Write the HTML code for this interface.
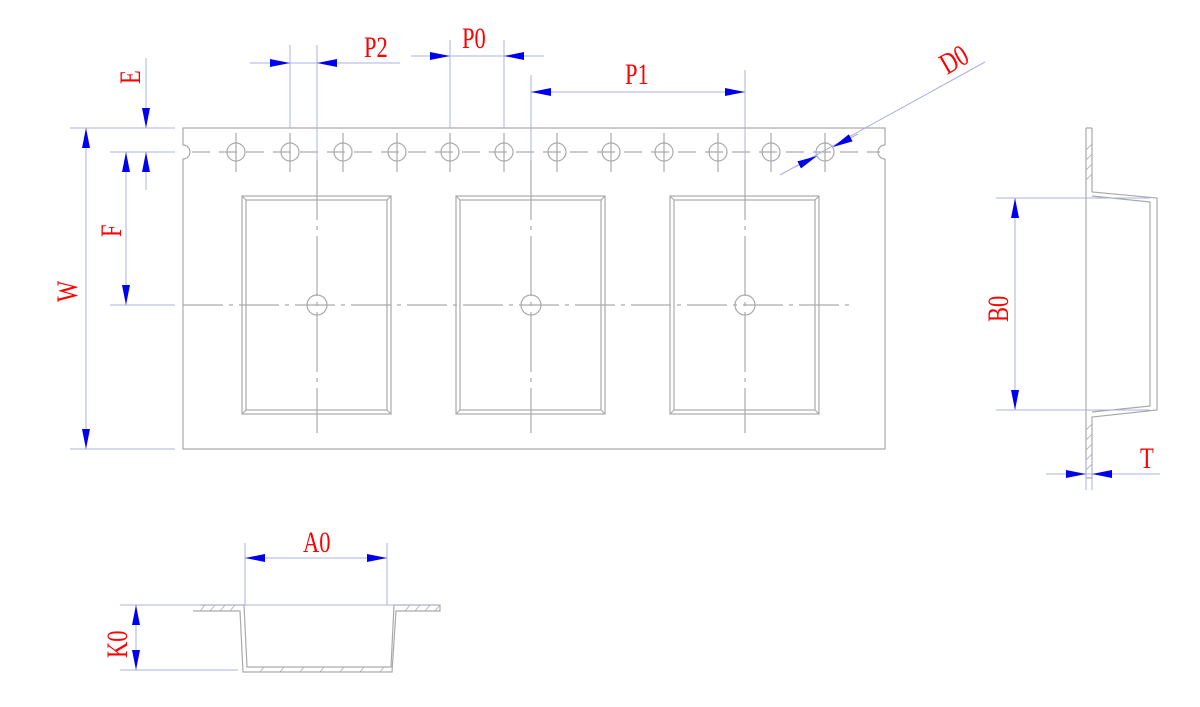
<!DOCTYPE html>
<html><head><meta charset="utf-8"><style>
html,body{margin:0;padding:0;background:#fff;}
svg{display:block}
text{font-family:"Liberation Serif",serif;fill:#f00;font-size:30px;}
</style></head><body>
<svg width="1200" height="707" viewBox="0 0 1200 707" xmlns="http://www.w3.org/2000/svg">
<defs>
<marker id="a" viewBox="0 0 20 8" refX="20" refY="4" markerWidth="20" markerHeight="8" markerUnits="userSpaceOnUse" orient="auto"><path d="M0,0L20,4L0,8z" fill="#0000ee"/></marker>
</defs>
<g fill="none" stroke="#aaa" stroke-width="1.2">
<path d="M183,128H885V145A7,7 0 0 0 885,159V449H183V159A7,7 0 0 0 183,145Z"/>
<line x1="192" y1="152" x2="880" y2="152" stroke-dasharray="18,9"/>
<circle cx="236" cy="152" r="9"/><circle cx="290" cy="152" r="9"/><circle cx="343" cy="152" r="9"/><circle cx="397" cy="152" r="9"/><circle cx="450" cy="152" r="9"/><circle cx="504" cy="152" r="9"/><circle cx="557" cy="152" r="9"/><circle cx="611" cy="152" r="9"/><circle cx="664" cy="152" r="9"/><circle cx="718" cy="152" r="9"/><circle cx="771" cy="152" r="9"/><circle cx="825" cy="152" r="9"/>
<path d="M236,133V172M343,133V172M397,133V172M557,133V172M611,133V172M664,133V172M718,133V172M771,133V172M825,133V172M290,133V172M450,133V172M504,133V172"/>
<rect x="242" y="196" width="149" height="218"/><rect x="246" y="200" width="141" height="210"/>
<rect x="456" y="196" width="149" height="218"/><rect x="460" y="200" width="141" height="210"/>
<rect x="670" y="196" width="149" height="218"/><rect x="674" y="200" width="141" height="210"/>
<path d="M242,196L246,200M391,196L387,200M242,414L246,410M391,414L387,410M456,196L460,200M605,196L601,200M456,414L460,410M605,414L601,410M670,196L674,200M819,196L815,200M670,414L674,410M819,414L815,410"/>
<circle cx="317" cy="305" r="10"/><circle cx="531" cy="305" r="10"/><circle cx="745" cy="305" r="10"/>
<line x1="183" y1="305" x2="850" y2="305" stroke-dasharray="40,6,4,6"/>
<line x1="317" y1="160" x2="317" y2="433" stroke-dasharray="60,6,4,6"/>
<line x1="531" y1="160" x2="531" y2="433" stroke-dasharray="60,6,4,6"/>
<line x1="745" y1="160" x2="745" y2="433" stroke-dasharray="60,6,4,6"/>
<path d="M1086,128V478M1092,128H1086M1092,128V192L1157,198V410L1092,417V478H1086"/>
<path d="M1092,196L1150,202V406L1092,412"/>
<path d="M1086,150l6,-6M1086,160l6,-6M1086,170l6,-6M1086,180l6,-6M1086,430l6,-6M1086,440l6,-6M1086,450l6,-6M1086,460l6,-6M1086,470l6,-6" stroke-width="0.8"/>
<path d="M193,611H240L243,672H392L396,611H440V605H394L391,667H247L244,605H200"/>
<path d="M200,611l5,-6M210,611l5,-6M220,611l5,-6M230,611l5,-6M405,611l5,-6M415,611l5,-6M425,611l5,-6M435,611l5,-6M260,672l4,-5M280,672l4,-5M300,672l4,-5M320,672l4,-5M340,672l4,-5M360,672l4,-5M380,672l4,-5" stroke-width="0.8"/>
</g>
<g fill="none" stroke="#aab0e0" stroke-width="1">
<path d="M290,45V128M317,45V160M250,63H400"/>
<line x1="250" y1="63" x2="290" y2="63" marker-end="url(#a)"/>
<line x1="357" y1="63" x2="317" y2="63" marker-end="url(#a)"/>
<path d="M450,40V128M504,40V128M411,56H544"/>
<line x1="411" y1="56" x2="450" y2="56" marker-end="url(#a)"/>
<line x1="544" y1="56" x2="504" y2="56" marker-end="url(#a)"/>
<path d="M531,75V160M745,70V160"/>
<line x1="551" y1="92" x2="531" y2="92" marker-end="url(#a)"/>
<line x1="551" y1="92" x2="725" y2="92"/>
<line x1="725" y1="92" x2="745" y2="92" marker-end="url(#a)"/>
<path d="M70,128H175M110,152H175M110,305H175M70,449H175"/>
<line x1="146" y1="58" x2="146" y2="128" marker-end="url(#a)"/>
<line x1="146" y1="190" x2="146" y2="152" marker-end="url(#a)"/>
<line x1="126" y1="228" x2="126" y2="152" marker-end="url(#a)"/>
<line x1="126" y1="228" x2="126" y2="305" marker-end="url(#a)"/>
<line x1="86" y1="290" x2="86" y2="128" marker-end="url(#a)"/>
<line x1="86" y1="290" x2="86" y2="449" marker-end="url(#a)"/>
<line x1="985" y1="62" x2="780" y2="175"/>
<line x1="858" y1="134" x2="833" y2="147" marker-end="url(#a)"/>
<line x1="795" y1="167" x2="817" y2="156" marker-end="url(#a)"/>
<path d="M996,198H1150M996,410H1150"/>
<line x1="1015" y1="305" x2="1015" y2="198" marker-end="url(#a)"/>
<line x1="1015" y1="305" x2="1015" y2="410" marker-end="url(#a)"/>
<path d="M1046,474H1160M1086,460V490M1092,460V490"/>
<line x1="1060" y1="474" x2="1086" y2="474" marker-end="url(#a)"/>
<line x1="1118" y1="474" x2="1092" y2="474" marker-end="url(#a)"/>
<path d="M245,543V605M387,543V605"/>
<line x1="316" y1="558" x2="245" y2="558" marker-end="url(#a)"/>
<line x1="316" y1="558" x2="387" y2="558" marker-end="url(#a)"/>
<path d="M120,605H440M120,670H238"/>
<line x1="136" y1="638" x2="136" y2="605" marker-end="url(#a)"/>
<line x1="136" y1="638" x2="136" y2="670" marker-end="url(#a)"/>
</g>
<g>
<text transform="translate(364,57) scale(0.75,1)">P2</text>
<text transform="translate(462,48) scale(0.75,1)">P0</text>
<text transform="translate(625,84) scale(0.75,1)">P1</text>
<text transform="translate(140,84) rotate(-90) scale(0.75,1)">E</text>
<text transform="translate(121,237) rotate(-90) scale(0.75,1)">F</text>
<text transform="translate(77,302) rotate(-90) scale(0.75,1)">W</text>
<text transform="translate(947,75) rotate(-30) scale(0.75,1)">D0</text>
<text transform="translate(1008,322) rotate(-90) scale(0.75,1)">B0</text>
<text transform="translate(1140,468) scale(0.75,1)">T</text>
<text transform="translate(303,552) scale(0.75,1)">A0</text>
<text transform="translate(127,658) rotate(-90) scale(0.75,1)">K0</text>
</g>
</svg>
</body></html>
